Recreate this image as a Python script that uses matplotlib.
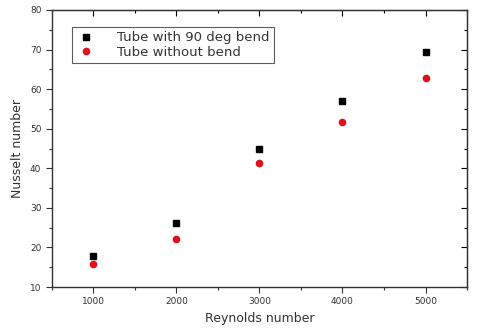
import matplotlib
matplotlib.use('Agg')
import matplotlib.pyplot as plt
from matplotlib.ticker import MultipleLocator

# datos
reynolds = [1000, 2000, 3000, 4000, 5000]
nu_bend = [17.9, 26.3, 44.9, 56.9, 69.4]
nu_straight = [15.8, 22.1, 41.4, 51.8, 62.8]

fig = plt.figure(figsize=(4.8, 3.33), dpi=100)
ax = fig.add_axes([0.108, 0.138, 0.865, 0.832])

ax.plot(reynolds, nu_bend, 's', color='black', ms=4.5, label='Tube with 90 deg bend')
ax.plot(reynolds, nu_straight, 'o', color='#e0101a', ms=4.5, label='Tube without bend')

ax.set_xlim(500, 5500)
ax.set_ylim(10, 80)
ax.xaxis.set_major_locator(MultipleLocator(1000))
ax.xaxis.set_minor_locator(MultipleLocator(500))
ax.yaxis.set_major_locator(MultipleLocator(10))
ax.yaxis.set_minor_locator(MultipleLocator(5))

ax.tick_params(which='both', direction='out', labelsize=6.5, colors='#333333', width=0.8)
ax.tick_params(which='major', length=4)
ax.tick_params(which='minor', length=2.5)
# marcas interiores arriba y derecha
ax2 = ax.secondary_xaxis('top')
ax2.xaxis.set_major_locator(MultipleLocator(1000))
ax2.xaxis.set_minor_locator(MultipleLocator(500))
ax2.tick_params(which='both', direction='in', labeltop=False, width=0.8)
ax2.tick_params(which='major', length=4)
ax2.tick_params(which='minor', length=2.5)
ax3 = ax.secondary_yaxis('right')
ax3.yaxis.set_major_locator(MultipleLocator(10))
ax3.yaxis.set_minor_locator(MultipleLocator(5))
ax3.tick_params(which='both', direction='in', labelright=False, width=0.8)
ax3.tick_params(which='major', length=4)
ax3.tick_params(which='minor', length=2.5)

for s in ax.spines.values():
    s.set_linewidth(1.0)
    s.set_color('#333333')

ax.set_xlabel('Reynolds number', fontsize=9, color='#333333', labelpad=4)
ax.set_ylabel('Nusselt number', fontsize=9, color='#333333', labelpad=4)

leg = ax.legend(loc='upper left', bbox_to_anchor=(0.048, 0.94), fontsize=9.5,
                frameon=True, fancybox=False, edgecolor='#333333', borderaxespad=0,
                handletextpad=1.6, borderpad=0.35, labelspacing=0.1, handlelength=1.5)
leg.get_frame().set_linewidth(0.8)
for t in leg.get_texts():
    t.set_color('#333333')

fig.savefig('out.png', dpi=100)
